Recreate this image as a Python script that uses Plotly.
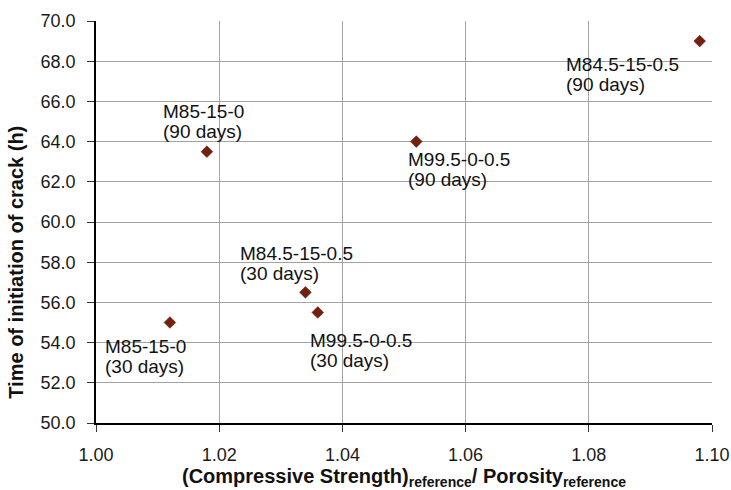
import plotly.graph_objects as go

# ---- data ----
x_ratio = [1.012, 1.018, 1.034, 1.036, 1.052, 1.098]
t_crack = [55.0, 63.5, 56.5, 55.5, 64.0, 69.0]
mix_names = ["M85-15-0", "M85-15-0", "M84.5-15-0.5", "M99.5-0-0.5", "M99.5-0-0.5", "M84.5-15-0.5"]
ages = ["(30 days)", "(90 days)", "(30 days)", "(30 days)", "(90 days)", "(90 days)"]

x_ticks = [1.00, 1.02, 1.04, 1.06, 1.08, 1.10]
y_ticks = [50.0, 52.0, 54.0, 56.0, 58.0, 60.0, 62.0, 64.0, 66.0, 68.0, 70.0]

# ---- label placement (pixel offsets from each marker: left edge, first-line middle) ----
label_dx = [-65, -44, -65, -8, -8, -134]
label_dy = [24, -40, -38.5, 28.5, 18, 23.5]   # positive = below marker
line_gap = 19.5

FONT = "Liberation Sans, Arial, sans-serif"
marker_color = "#75200f"
grid_color = "#a3a3a3"

fig = go.Figure()
fig.add_trace(go.Scatter(
    x=x_ratio, y=t_crack, mode="markers",
    marker=dict(symbol="diamond", size=9, color=marker_color,
                line=dict(width=0.5, color="#4a1408")),
    showlegend=False, hoverinfo="x+y",
))

annotations = []
for xv, yv, nm, ag, dx, dy in zip(x_ratio, t_crack, mix_names, ages, label_dx, label_dy):
    for k, txt in enumerate([nm, ag]):
        annotations.append(dict(
            x=xv, y=yv, xref="x", yref="y", text=txt, showarrow=False,
            xanchor="left", yanchor="middle",
            xshift=dx - 2, yshift=-(dy + k * line_gap),
            font=dict(family=FONT, size=19, color="#111111"),
        ))

# y-axis title (positioned as in the reference, slightly below centre)
annotations.append(dict(
    x=-0.129, y=0.40, xref="paper", yref="paper",
    text="<b>Time of initiation of crack (h)</b>", textangle=-90, showarrow=False,
    xanchor="center", yanchor="middle",
    font=dict(family=FONT, size=20, color="#111111"),
))

fig.update_layout(
    width=731, height=490,
    margin=dict(l=96, r=19, t=21, b=67, autoexpand=False),
    paper_bgcolor="white", plot_bgcolor="white",
    annotations=annotations,
    xaxis=dict(
        range=[1.00, 1.10], tickvals=x_ticks, ticktext=[f"{v:.2f}" for v in x_ticks],
        showgrid=True, gridcolor=grid_color, gridwidth=1,
        showline=True, linecolor="black", linewidth=1.5,
        ticks="outside", ticklen=7, tickcolor="#333333", tickwidth=1,
        tickfont=dict(family=FONT, size=18, color="#1a1a1a"),
        ticklabelstandoff=8, automargin=False,
        zeroline=False,
        title=dict(text="<b>(Compressive Strength)<sub>reference</sub>/ Porosity<sub>reference</sub></b>",
                   font=dict(family=FONT, size=20, color="#111111"), standoff=6),
    ),
    yaxis=dict(
        range=[50.0, 70.0], tickvals=y_ticks, ticktext=[f"{v:.1f}" for v in y_ticks],
        showgrid=True, gridcolor=grid_color, gridwidth=1,
        showline=True, linecolor="black", linewidth=1.5,
        ticks="outside", ticklen=7, tickcolor="#333333", tickwidth=1,
        tickfont=dict(family=FONT, size=18, color="#1a1a1a"),
        ticklabelstandoff=8, automargin=False,
        zeroline=False,
    ),
)

fig.write_html("out.html")
